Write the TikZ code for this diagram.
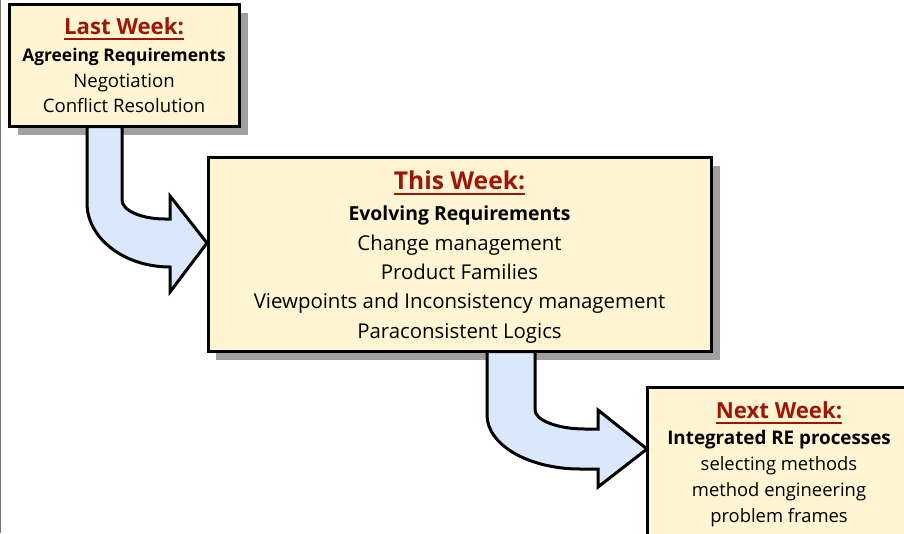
\documentclass[tikz,border=0pt]{standalone}
\usepackage{fontspec}
\setmainfont{Open Sans}
\usetikzlibrary{shadows}

\definecolor{cream}{RGB}{255,245,211}
\definecolor{weekred}{RGB}{158,22,8}
\definecolor{arrowblue}{RGB}{219,232,251}
\definecolor{shadowgray}{RGB}{160,160,160}
\definecolor{edgegray}{RGB}{120,120,120}

\newcommand{\fsz}[1]{\fontsize{#1}{#1}\selectfont}

\begin{document}
\begin{tikzpicture}[x=1pt,y=-1pt,
  weekbox/.style={draw=black, line width=3pt, fill=cream, anchor=north west,
    inner sep=0pt, outer sep=0pt,
    drop shadow={shadow xshift=8pt, shadow yshift=-8pt, fill=shadowgray, opacity=1}},
  blockarrow/.style={draw=black, line width=3pt, fill=arrowblue, line join=miter},
  weektitle/.style={anchor=base, inner sep=0pt, text=weekred, font=\bfseries\fsz{#1}},
  weekhead/.style={anchor=base, inner sep=0pt, font=\bfseries\fsz{#1}},
  weekitem/.style={anchor=base, inner sep=0pt, font=\fsz{#1}},
  underline/.style={draw=weekred, line width=2pt}
]
\useasboundingbox (0,0) rectangle (904,533);
\clip (0,0) rectangle (904,533);

% page edge rule
\draw[edgegray, line width=1.2pt] (0.6,0) -- (0.6,533);

% the three week boxes
\node[weekbox, minimum width=230pt, minimum height=122pt] (lastbox) at (9.5,4.5) {};
\node[weekbox, minimum width=503.5pt, minimum height=194pt] (thisbox) at (208,157.5) {};
\node[weekbox, minimum width=266pt, minimum height=200pt] (nextbox) at (647,387) {};

% last week
\node[weektitle=22.2] (lasttitle) at (124,34) {Last Week:};
\draw[underline] ([yshift=-4.5pt]lasttitle.base west) -- ([yshift=-4.5pt]lasttitle.base east);
\node[weekhead=17.4] (lasthead) at (124,61) {Agreeing Requirements};
\node[weekitem=18.6] (lastitemA) at (124,87) {Negotiation};
\node[weekitem=18.6] (lastitemB) at (124,112.5) {Conflict Resolution};

% this week
\node[weektitle=24.6] (thistitle) at (459.5,189) {This Week:};
\draw[underline] ([yshift=-4.5pt]thistitle.base west) -- ([yshift=-4.5pt]thistitle.base east);
\node[weekhead=19.4] (thishead) at (459.5,220.5) {Evolving Requirements};
\node[weekitem=20.4] (thisitemA) at (459.5,250) {Change management};
\node[weekitem=20.4] (thisitemB) at (459.5,279) {Product Families};
\node[weekitem=20.4] (thisitemC) at (459.5,308.5) {Viewpoints and Inconsistency management};
\node[weekitem=20.4] (thisitemD) at (459.5,338) {Paraconsistent Logics};

% next week
\node[weektitle=22.2] (nexttitle) at (779,418) {Next Week:};
\draw[underline] ([yshift=-4.5pt]nexttitle.base west) -- ([yshift=-4.5pt]nexttitle.base east);
\node[weekhead=18.8] (nexthead) at (779,444) {Integrated RE processes};
\node[weekitem=18.4] (nextitemA) at (779,470) {selecting methods};
\node[weekitem=18.4] (nextitemB) at (779,496) {method engineering};
\node[weekitem=18.4] (nextitemC) at (779,522) {problem frames};

% bent block arrow: last week -> this week
\begin{scope}[shift={(lastbox.south west)}]
  \draw[blockarrow] (77.5,0) -- (112.5,0) -- (112.5,73.5)
    .. controls (112.5,84) and (131.8,92.5) .. (155.5,92.5)
    -- (160.5,92.5) -- (160.5,69.5) -- (197.5,116.5) -- (160.5,165.5)
    -- (160.5,140.5)
    .. controls (114.7,140.5) and (77.5,111.8) .. (77.5,76.5) -- cycle;
\end{scope}

% bent block arrow: this week -> next week
\begin{scope}[shift={(thisbox.south west)}]
  \draw[blockarrow] (279,0) -- (327,0) -- (327,58.5)
    .. controls (327,68.5) and (349,77.5) .. (377,77.5)
    -- (390,77.5) -- (390,58.5) -- (439,97.5) -- (390,135.5)
    -- (390,117.5) -- (372,117.5)
    .. controls (320.6,117.5) and (279,93.3) .. (279,63.5) -- cycle;
\end{scope}
\end{tikzpicture}
\end{document}
